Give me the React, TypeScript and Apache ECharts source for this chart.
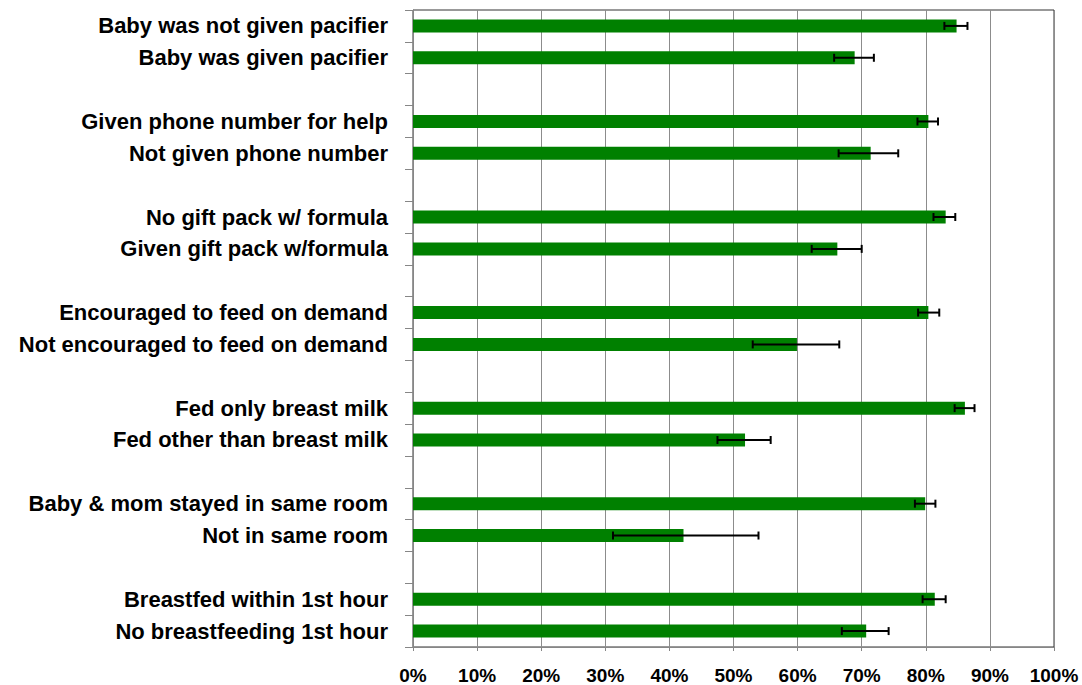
import React, { useEffect, useRef } from "react";
import * as echarts from "echarts";

const categories: string[] = [
  "Baby was not given pacifier",
  "Baby was given pacifier",
  "",
  "Given phone number for help",
  "Not given phone number",
  "",
  "No gift pack w/ formula",
  "Given gift pack w/formula",
  "",
  "Encouraged to feed on demand",
  "Not encouraged to feed on demand",
  "",
  "Fed only breast milk",
  "Fed other than breast milk",
  "",
  "Baby & mom stayed in same room",
  "Not in same room",
  "",
  "Breastfed within 1st hour",
  "No breastfeeding 1st hour",
];

const values: (number | null)[] = [
  84.8, 68.9, null,
  80.4, 71.4, null,
  83.1, 66.2, null,
  80.4, 59.9, null,
  86.1, 51.8, null,
  79.9, 42.2, null,
  81.4, 70.7,
];

const errLow: (number | null)[] = [
  82.9, 65.7, null,
  78.7, 66.4, null,
  81.2, 62.2, null,
  78.8, 53.0, null,
  84.5, 47.5, null,
  78.3, 31.2, null,
  79.5, 66.9,
];

const errHigh: (number | null)[] = [
  86.5, 71.9, null,
  81.9, 75.7, null,
  84.6, 70.0, null,
  82.1, 66.5, null,
  87.6, 55.8, null,
  81.5, 53.9, null,
  83.1, 74.2,
];

const xTicks = { min: 0, max: 100, interval: 10 };

export default function App() {
  const ref = useRef<HTMLDivElement>(null);
  useEffect(() => {
    if (!ref.current) return;
    const chart = echarts.init(ref.current, undefined, { renderer: "svg" });
    const errData: any[] = [];
    categories.forEach((_, i) => {
      if (errLow[i] != null && errHigh[i] != null) {
        errData.push([errLow[i], errHigh[i], i]);
      }
    });
    chart.setOption({
      animation: false,
      grid: {
        left: 413,
        right: 28,
        top: 10,
        bottom: 36,
        show: true,
        borderColor: "#333",
        borderWidth: 1,
      },
      xAxis: {
        type: "value",
        min: xTicks.min,
        max: xTicks.max,
        interval: xTicks.interval,
        axisLine: { show: true, lineStyle: { color: "#868686", width: 1 } },
        axisTick: { show: true, length: 4, lineStyle: { color: "#868686" } },
        splitLine: { show: true, lineStyle: { color: "#8c8c8c", width: 1 } },
        axisLabel: {
          formatter: "{value}%",
          fontFamily: "Liberation Sans",
          fontWeight: "bold",
          fontSize: 19,
          color: "#000",
          margin: 19,
        },
      },
      yAxis: {
        type: "category",
        inverse: true,
        data: categories,
        axisLine: { show: true, lineStyle: { color: "#868686", width: 1 } },
        axisTick: {
          show: true,
          length: 8,
          alignWithLabel: false,
          interval: 0,
          lineStyle: { color: "#868686" },
        },
        axisLabel: {
          interval: 0,
          fontFamily: "Liberation Sans",
          fontWeight: "bold",
          fontSize: 22,
          color: "#000",
          margin: 25,
        },
        splitLine: { show: false },
      },
      series: [
        {
          type: "bar",
          data: values,
          barWidth: 13,
          itemStyle: { color: "#008000" },
          z: 2,
        },
        {
          type: "custom",
          data: errData,
          encode: { x: [0, 1], y: 2 },
          z: 3,
          renderItem: (params: any, api: any) => {
            const y = api.value(2);
            const lo = api.coord([api.value(0), y]);
            const hi = api.coord([api.value(1), y]);
            const h = 4;
            const style = { stroke: "#000", lineWidth: 2 };
            return {
              type: "group",
              children: [
                { type: "line", shape: { x1: lo[0], y1: lo[1], x2: hi[0], y2: hi[1] }, style },
                { type: "line", shape: { x1: lo[0], y1: lo[1] - h, x2: lo[0], y2: lo[1] + h }, style },
                { type: "line", shape: { x1: hi[0], y1: hi[1] - h, x2: hi[0], y2: hi[1] + h }, style },
              ],
            };
          },
        },
      ],
    });
    return () => chart.dispose();
  }, []);
  return (
    <div
      ref={ref}
      style={{ position: "fixed", left: 0, top: 0, width: 1082, height: 685, background: "#fff" }}
    />
  );
}
